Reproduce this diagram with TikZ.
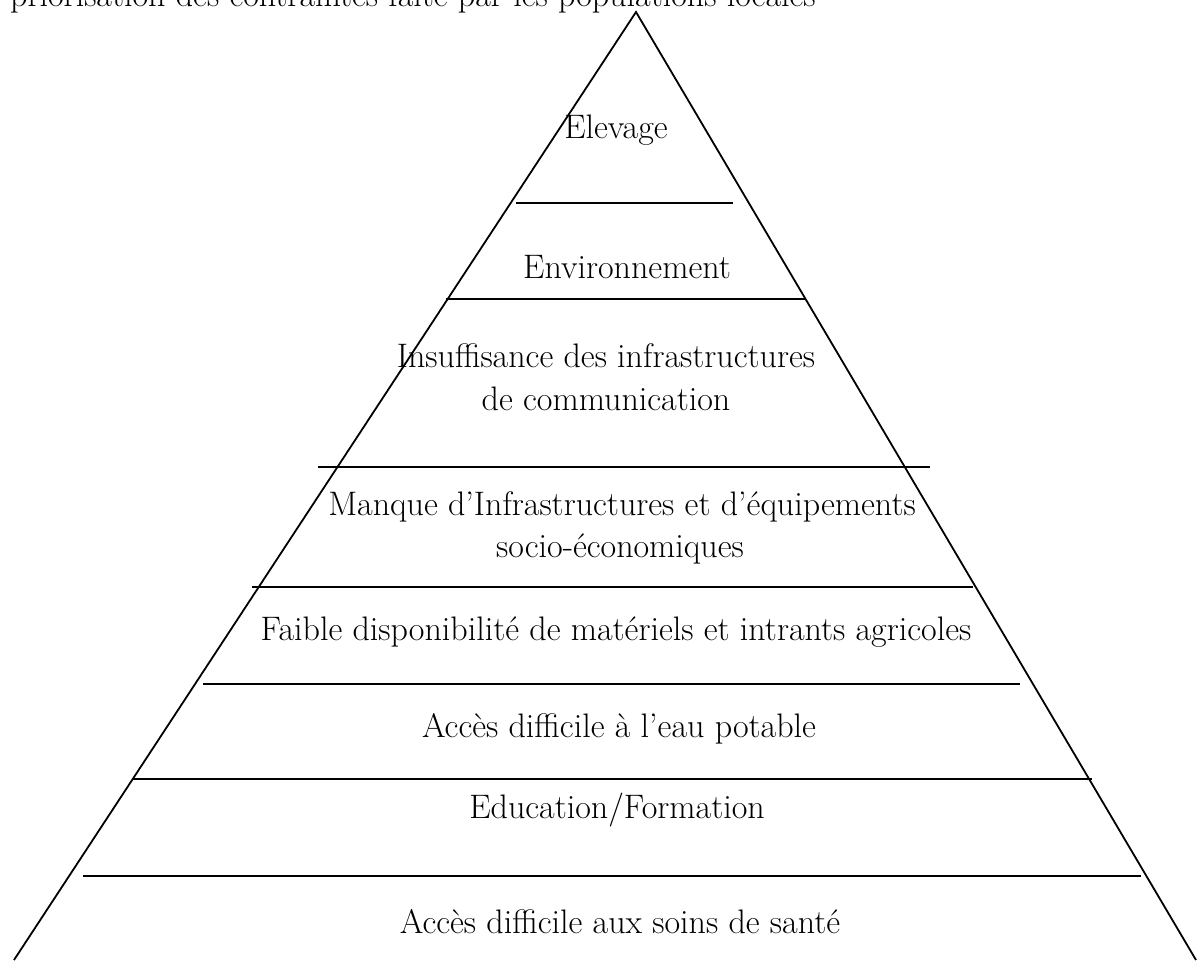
\documentclass[tikz,border=0pt]{standalone}
\begin{document}
\begin{tikzpicture}[x=1pt,y=-1pt,
  lbl/.style={font=\fontsize{34}{40}\selectfont, inner sep=0pt, align=center},
  sep/.style={line width=2.4pt},
  edge/.style={line width=1.8pt}]
\useasboundingbox (0,0) rectangle (1199,963);
\clip (0,0) rectangle (1199,963);
\coordinate (apex) at (636,12);
\coordinate (bl) at (14,960);
\coordinate (br) at (1196,960);
\draw[edge] (bl) -- (apex) -- (br);
\node[lbl, anchor=base west] (title) at (10,7) {priorisation des contraintes faite par les populations locales};
\draw[sep] (516,203) -- (733,203);
\draw[sep] (446,299) -- (805,299);
\draw[sep] (318,467) -- (930,467);
\draw[sep] (252,587) -- (973,587);
\draw[sep] (203,684) -- (1020,684);
\draw[sep] (133,779) -- (1092,779);
\draw[sep] (83,876) -- (1141,876);
\node[lbl] (t1) at (616,130) {Elevage};
\node[lbl] (t2) at (627,267) {Environnement};
\node[lbl, anchor=base] (t3) at (606,367) {Insuffisance des infrastructures};
\node[lbl, anchor=base] (t3b) at (606,410) {de communication};
\node[lbl, anchor=base] (t4) at (622,515) {Manque d'Infrastructures et d'équipements};
\node[lbl, anchor=base] (t4b) at (620,557) {socio-économiques};
\node[lbl] (t5) at (616,632) {Faible disponibilité de matériels et intrants agricoles};
\node[lbl] (t6) at (619,729) {Accès difficile à l'eau potable};
\node[lbl] (t7) at (617,810) {Education/Formation};
\node[lbl] (t8) at (620,922) {Accès difficile aux soins de santé};
\end{tikzpicture}
\end{document}
